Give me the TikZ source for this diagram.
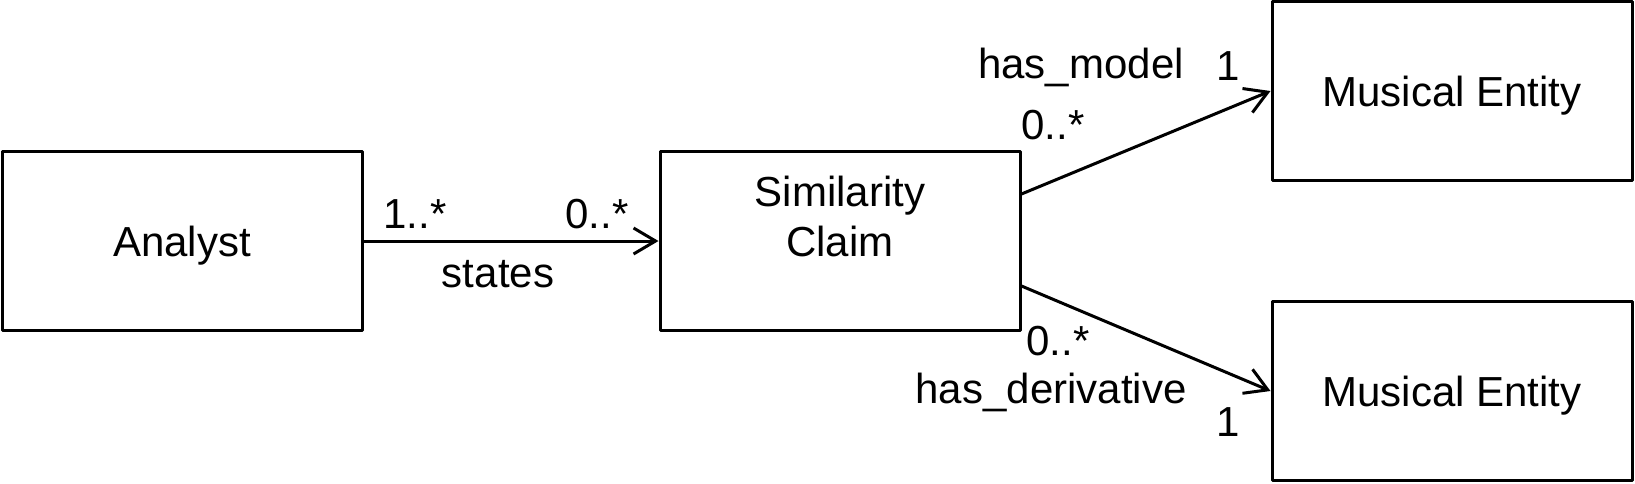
\documentclass[tikz,border=0pt]{standalone}
\usepackage{fontspec}
\setmainfont{Liberation Sans}
\usetikzlibrary{arrows.meta}
\begin{document}
\begin{tikzpicture}[x=0.5pt,y=-0.5pt,line cap=round,line join=round,font=\fontsize{21}{25}\selectfont,
  box/.style={draw,line width=1.5pt,minimum width=180pt,minimum height=89.5pt,inner sep=0pt,align=center,text height=19pt,text depth=4pt},
  link/.style={line width=1.5pt,-{Straight Barb[length=11pt,width=13pt,line width=1.5pt]}},
  lbl/.style={inner sep=0pt}]
\useasboundingbox (0,0) rectangle (1635,483);
\node[box] (analyst) at (182,241){Analyst};
\node[box] (claim) at (840,241){Similarity\\Claim};
\node[box] (model) at (1452,91){Musical Entity};
\node[box] (deriv) at (1452,391){Musical Entity};
\draw[link] (analyst.east)--(claim.west);
\draw[link] ([yshift=23.5pt]claim.east)--(model.west);
\draw[link] ([yshift=-22.5pt]claim.east)--(deriv.west);
\node[lbl] (m1) at (415,214){1..*};
\node[lbl] (m2) at (597,214){0..*};
\node[lbl] (states) at (498,274){states};
\node[lbl] (hasmodel) at (1081,67){has\_model};
\node[lbl] (m3) at (1228,66){1};
\node[lbl] (m4) at (1053,125){0..*};
\node[lbl] (m5) at (1058,341){0..*};
\node[lbl] (hasderiv) at (1051,392){has\_derivative};
\node[lbl] (m6) at (1228,422){1};
\end{tikzpicture}
\end{document}
